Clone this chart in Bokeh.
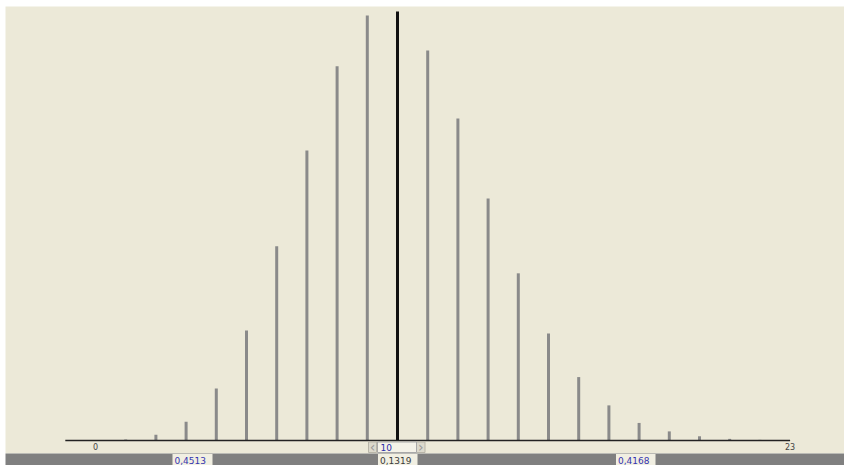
from bokeh.plotting import figure
from bokeh.models import Range1d, ColumnDataSource
from bokeh.embed import file_html
from bokeh.resources import INLINE
from bokeh.core.properties import value

# ---- data ----
k_values = list(range(0, 24))
probabilities = [0.0000, 0.0003, 0.0018, 0.0058, 0.0160, 0.0338, 0.0597, 0.0892,
                 0.1151, 0.1307, 0.1319, 0.1199, 0.0990, 0.0744, 0.0514, 0.0329,
                 0.0195, 0.0108, 0.0054, 0.0028, 0.0013, 0.0005, 0.0002, 0.0000]
selected_k = 10
axis_tick_values = [0, 23]
axis_tick_labels = ["0", "23"]
left_prob_label = "0,4513"
mid_prob_label = "0,1319"
right_prob_label = "0,4168"

W, H = 844, 465
FONT = "DejaVu Sans"

# scales: x=0 at 95px, 30.2 px per unit; baseline at 440px, peak 11px from top
px_per_unit = 30.2
x_start = -95 / px_per_unit
x_end = (W - 95) / px_per_unit
pmax = max(probabilities)
y_end = pmax * 440 / 429
y_start = -pmax * (H - 440) / 429


def PX(px):
    return x_start + px * (x_end - x_start) / W


def PY(py):
    return y_end - py * (y_end - y_start) / H


p = figure(width=W, height=H, output_backend="svg", toolbar_location=None,
           x_range=Range1d(x_start, x_end), y_range=Range1d(y_start, y_end),
           x_axis_type=None, y_axis_type=None, min_border=0,
           background_fill_color="white", border_fill_color="white")
p.outline_line_color = None
p.grid.visible = False

# panel background and bottom strip
p.quad(left=PX(5), right=PX(844), top=PY(6), bottom=PY(453),
       fill_color="#ECE9D8", line_color=None)
p.quad(left=PX(5), right=PX(844), top=PY(453), bottom=PY(465),
       fill_color="#808080", line_color=None)

# bars
gray_x = [k for k in k_values if k != selected_k]
gray_y = [probabilities[k] for k in gray_x]
src = ColumnDataSource(dict(x=gray_x, y0=[0] * len(gray_x), y1=gray_y))
p.segment(x0="x", y0="y0", x1="x", y1="y1", source=src,
          line_width=3, line_color="#8a8a8a", line_cap="butt")
p.segment(x0=[selected_k], y0=[0], x1=[selected_k], y1=[probabilities[selected_k]],
          line_width=3, line_color="#111111", line_cap="butt")

# axis line
p.segment(x0=[k_values[0] - 1], y0=[0], x1=[k_values[-1]], y1=[0],
          line_width=1.6, line_color="#222222")
p.text(x=axis_tick_values, y=[PY(445.5)] * len(axis_tick_values), text=axis_tick_labels,
       text_font=value(FONT), text_font_size="8px", text_color="#444444",
       text_align="center", text_baseline="middle")

# spinner widget below the selected value
p.quad(left=PX(368), right=PX(376), top=PY(441.5), bottom=PY(452),
       fill_color="#dcd9cc", line_color="#b8b5a8")
p.quad(left=PX(416), right=PX(424.5), top=PY(441.5), bottom=PY(452),
       fill_color="#dcd9cc", line_color="#b8b5a8")
p.text(x=[PX(372), PX(420.2)], y=[PY(446.5)] * 2, text=["\u2039", "\u203a"],
       text_font=value(FONT), text_font_size="14px", text_color="#9a9a9a",
       text_align="center", text_baseline="middle")
p.quad(left=PX(377), right=PX(416), top=PY(441.5), bottom=PY(452),
       fill_color="#f4f2e8", line_color="#a8a8a8")
p.text(x=[PX(380)], y=[PY(447)], text=[str(selected_k)],
       text_font=value(FONT), text_font_size="9px", text_color="#2c2ca8",
       text_align="left", text_baseline="middle")

# probability boxes in the bottom strip
box_left = [PX(172), PX(377.5), PX(615.5)]
box_right = [PX(212), PX(417), PX(655)]
p.quad(left=box_left, right=box_right, top=PY(453.5), bottom=PY(465),
       fill_color="#f1efe2", line_color=None)
p.text(x=[PX(174), PX(379.5), PX(617.5)], y=[PY(459.5)] * 3,
       text=[left_prob_label, mid_prob_label, right_prob_label],
       text_font=value(FONT), text_font_size="9px",
       text_color=["#3434b0", "#3a3a3a", "#3434b0"],
       text_align="left", text_baseline="middle")

open("out.html", "w").write(file_html(p, INLINE))
